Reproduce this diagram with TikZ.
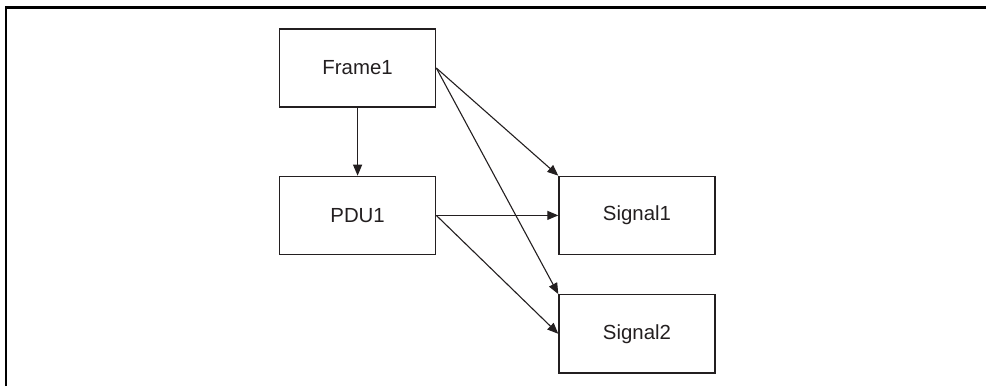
\documentclass[tikz,border=0pt]{standalone}
\usepackage{fontspec}
\setmainfont{Liberation Sans}
\usetikzlibrary{arrows.meta,positioning}
\definecolor{DiagInk}{HTML}{231F20}
\tikzset{
  entity/.style={
    draw=DiagInk,
    line width=0.7pt,
    minimum width=78pt,
    minimum height=39pt,
    inner sep=0pt,
    text=DiagInk,
    font=\fontsize{10.2}{12}\selectfont
  },
  linkarrow/.style={-{Triangle[length=5.5pt,width=4.5pt]},line width=0.55pt,draw=DiagInk},
  pageframe/.style={line width=1.3pt,draw=black}
}
\begin{document}
\begin{tikzpicture}[node distance=34pt and 61pt]
    \useasboundingbox (0,0) rectangle (493pt,193pt);
    \coordinate (corner) at (2.9pt,189.3pt);
    \coordinate (topend) at (493pt,189.3pt);
    \coordinate (leftend) at (2.9pt,0pt);
    \draw[pageframe] (leftend) -- (corner) -- (topend);

    \node[entity] (frame) at (178.8pt,159pt) {Frame1};
    \node[entity,below=of frame] (pdu) {PDU1};
    \node[entity,right=of pdu] (sigA) {Signal1};
    \node[entity,below=19.5pt of sigA] (sigB) {Signal2};

    \draw[linkarrow] (frame) -- (pdu);
    \draw[linkarrow] (frame.east) -- (sigA.north west);
    \draw[linkarrow] (frame.east) -- (sigB.north west);
    \draw[linkarrow] (pdu.east) -- (sigA.west);
    \draw[linkarrow] (pdu.east) -- (sigB.west);
  \end{tikzpicture}
\end{document}
